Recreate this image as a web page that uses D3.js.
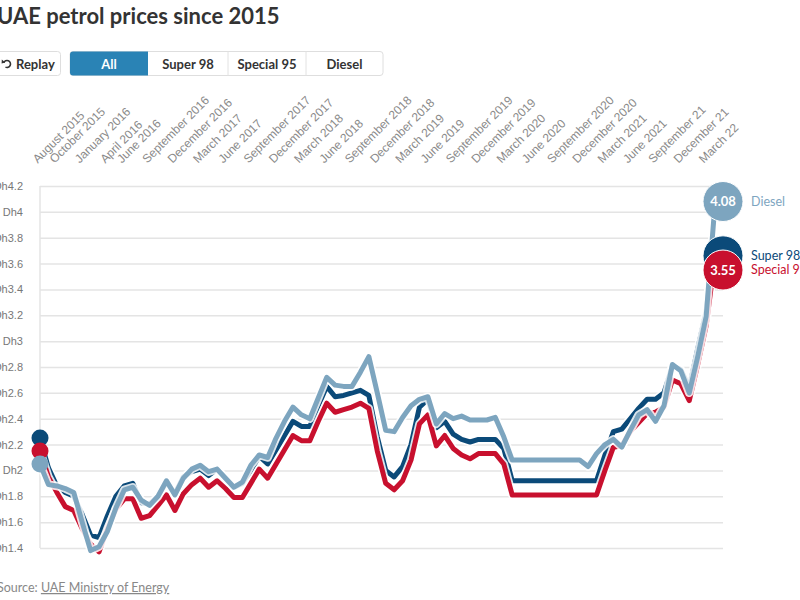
<!DOCTYPE html>
<html>
<head>
<meta charset="utf-8">
<script src="https://cdn.jsdelivr.net/npm/d3@7/dist/d3.min.js"></script>
<style>
  body { margin: 0; background: #fff; font-family: Lato, "Noto Sans", sans-serif; }
  .grid line { stroke: #e4e4e4; stroke-width: 1.5; }
  .grid text { fill: #777; font-size: 11px; }
  .months text { fill: #8a8a8a; font-size: 12px; }
</style>
</head>
<body>
<svg id="chart" width="800" height="600"></svg>
<script>
// monthly prices (Dh per litre), August 2015 to May 2022
var super98 = [
  2.25, 2.02, 1.88, 1.83, 1.80, 1.66, 1.50, 1.48, 1.65, 1.80,
  1.88, 1.90, 1.75, 1.74, 1.80, 1.91, 1.82, 1.95, 1.99, 2.01,
  1.96, 2.01, 1.94, 1.87, 1.90, 2.00, 2.11, 2.05, 2.16, 2.27,
  2.38, 2.34, 2.34, 2.50, 2.65, 2.57, 2.58, 2.60, 2.62, 2.58,
  2.26, 2.00, 1.95, 2.03, 2.20, 2.49, 2.55, 2.33, 2.38, 2.28,
  2.24, 2.22, 2.24, 2.24, 2.24, 2.17, 1.92, 1.92, 1.92, 1.92,
  1.92, 1.92, 1.92, 1.92, 1.92, 1.92, 1.92, 2.12, 2.30, 2.32,
  2.40, 2.48, 2.55, 2.55, 2.60, 2.81, 2.78, 2.64, 2.94, 3.23,
  3.74, 3.66
];
var special95 = [
  2.15, 1.95, 1.83, 1.72, 1.69, 1.55, 1.43, 1.37, 1.55, 1.70,
  1.78, 1.78, 1.63, 1.65, 1.73, 1.81, 1.69, 1.82, 1.89, 1.94,
  1.87, 1.92, 1.86, 1.79, 1.79, 1.90, 2.01, 1.94, 2.05, 2.16,
  2.27, 2.23, 2.23, 2.38, 2.52, 2.45, 2.47, 2.49, 2.52, 2.48,
  2.15, 1.90, 1.85, 1.92, 2.08, 2.36, 2.43, 2.19, 2.27, 2.17,
  2.12, 2.09, 2.13, 2.13, 2.13, 2.05, 1.81, 1.81, 1.81, 1.81,
  1.81, 1.81, 1.81, 1.81, 1.81, 1.81, 1.81, 2.00, 2.18, 2.19,
  2.30, 2.37, 2.44, 2.45, 2.49, 2.70, 2.67, 2.54, 2.82, 3.12,
  3.62, 3.55
];
var diesel = [
  2.05, 1.89, 1.88, 1.86, 1.83, 1.60, 1.38, 1.41, 1.53, 1.71,
  1.85, 1.87, 1.77, 1.73, 1.80, 1.92, 1.81, 1.94, 2.01, 2.04,
  1.99, 2.01, 1.94, 1.87, 1.91, 2.04, 2.12, 2.10, 2.25, 2.38,
  2.49, 2.43, 2.40, 2.56, 2.72, 2.66, 2.65, 2.65, 2.76, 2.88,
  2.60, 2.31, 2.30, 2.41, 2.50, 2.55, 2.57, 2.36, 2.44, 2.40,
  2.42, 2.39, 2.39, 2.39, 2.41, 2.26, 2.08, 2.08, 2.08, 2.08,
  2.08, 2.08, 2.08, 2.08, 2.08, 2.03, 2.13, 2.20, 2.24, 2.18,
  2.31, 2.43, 2.47, 2.38, 2.50, 2.82, 2.77, 2.60, 2.88, 3.19,
  4.02, 4.08
];

// x labels: month index (0 = August 2015) and text
var tickMonths = [0, 2, 5, 8, 10, 13, 16, 19, 22, 25, 28, 31, 34, 37, 40,
  43, 46, 49, 52, 55, 58, 61, 64, 67, 70, 73, 76, 79];
var tickLabels = ["August 2015", "October 2015", "January 2016", "April 2016",
  "June 2016", "September 2016", "December 2016", "March 2017", "June 2017",
  "September 2017", "December 2017", "March 2018", "June 2018",
  "September 2018", "December 2018", "March 2019", "June 2019",
  "September 2019", "December 2019", "March 2020", "June 2020",
  "September 2020", "December 2020", "March 2021", "June 2021",
  "September 21", "December 21", "March 22"];
var yTicks = [1.4, 1.6, 1.8, 2, 2.2, 2.4, 2.6, 2.8, 3, 3.2, 3.4, 3.6, 3.8, 4, 4.2];
var buttonLabels = ["All", "Super 98", "Special 95", "Diesel"];

var series = [
  { name: "Super 98", values: super98, colour: "#0b4a79", showValue: false },
  { name: "Special 95", values: special95, colour: "#c8102e", showValue: true },
  { name: "Diesel", values: diesel, colour: "#7da5bf", showValue: true }
];

var svg = d3.select("#chart");

var plot = { left: 40, right: 723, top: 186, bottom: 548 };

var x = d3.scaleLinear()
  .domain([0, super98.length - 1])
  .range([plot.left, plot.right]);
var y = d3.scaleLinear()
  .domain([1.4, 4.2])
  .range([plot.bottom, plot.top]);

// title
svg.append("text")
  .attr("x", -3)
  .attr("y", 24)
  .style("font-size", "22px")
  .style("font-weight", 700)
  .style("fill", "#333")
  .text("UAE petrol prices since 2015");

// replay button
var replay = svg.append("g");
replay.append("rect")
  .attr("x", -6).attr("y", 51.5)
  .attr("width", 66.5).attr("height", 24)
  .attr("rx", 3)
  .attr("fill", "#fff")
  .attr("stroke", "#dedede");
replay.append("path")
  .attr("d", d3.arc()({ innerRadius: 3.5, outerRadius: 3.5, startAngle: -1.2, endAngle: 3.6 }))
  .attr("transform", "translate(7,64)")
  .attr("fill", "none")
  .attr("stroke", "#333")
  .attr("stroke-width", 1.6);
replay.append("path")
  .attr("d", "M1.8,59.5 L5.2,62.6 L1.6,63.4 Z")
  .attr("fill", "#333");
replay.append("text")
  .attr("x", 16).attr("y", 68.5)
  .style("font-size", "13px")
  .style("font-weight", 700)
  .style("fill", "#333")
  .text("Replay");

// segmented buttons
var buttonEdges = [70, 148, 228, 306, 383];
var seg = svg.append("g");
seg.append("rect")
  .attr("x", buttonEdges[0]).attr("y", 51.5)
  .attr("width", buttonEdges[4] - buttonEdges[0]).attr("height", 24)
  .attr("rx", 3)
  .attr("fill", "#fff")
  .attr("stroke", "#dedede");
seg.append("path")
  .attr("d", "M" + (buttonEdges[0] + 3) + ",51.5 H" + buttonEdges[1] + " V75.5 H" + (buttonEdges[0] + 3) +
    " A3,3 0 0 1 " + buttonEdges[0] + ",72.5 V54.5 A3,3 0 0 1 " + (buttonEdges[0] + 3) + ",51.5 Z")
  .attr("fill", "#2a83b5");
buttonLabels.forEach(function (d, i) {
  if (i > 1) {
    seg.append("line")
      .attr("x1", buttonEdges[i]).attr("x2", buttonEdges[i])
      .attr("y1", 51.5).attr("y2", 75.5)
      .attr("stroke", "#e2e2e2");
  }
  seg.append("text")
    .attr("x", (buttonEdges[i] + buttonEdges[i + 1]) / 2)
    .attr("y", 68.5)
    .attr("text-anchor", "middle")
    .style("font-size", "13px")
    .style("font-weight", 700)
    .style("fill", i === 0 ? "#fff" : "#333")
    .text(d);
});

// y gridlines and labels
svg.append("g")
  .attr("class", "grid")
  .attr("transform", "translate(" + plot.left + ",0)")
  .call(d3.axisLeft(y)
    .tickValues(yTicks)
    .tickSize(-(plot.right - plot.left))
    .tickPadding(17)
    .tickFormat(function (d) { return "Dh" + d; }))
  .call(function (g) { g.select(".domain").remove(); })
  .call(function (g) { g.selectAll("text").style("font-family", "inherit"); });

svg.append("line")
  .attr("x1", plot.left).attr("x2", plot.left)
  .attr("y1", plot.top).attr("y2", plot.bottom)
  .attr("stroke", "#e4e4e4")
  .attr("stroke-width", 1.5);

// rotated month labels
svg.append("g")
  .attr("class", "months")
  .attr("transform", "translate(0,161)")
  .call(d3.axisTop(x)
    .tickValues(tickMonths)
    .tickSize(0)
    .tickFormat(function (d, i) { return tickLabels[i]; }))
  .call(function (g) { g.select(".domain").remove(); })
  .call(function (g) {
    g.selectAll("text")
      .attr("x", -4)
      .attr("y", 0)
      .attr("dy", 0)
      .attr("text-anchor", "start")
      .attr("transform", "rotate(-45)")
      .style("font-family", "inherit");
  });

// lines
var line = d3.line()
  .x(function (d, i) { return x(i); })
  .y(function (d) { return y(d); });

series.forEach(function (s) {
  svg.append("path")
    .datum(s.values)
    .attr("d", line)
    .attr("fill", "none")
    .attr("stroke", "#fff")
    .attr("stroke-opacity", 0.85)
    .attr("stroke-width", 8.5)
    .attr("stroke-linejoin", "round");
  svg.append("path")
    .datum(s.values)
    .attr("d", line)
    .attr("fill", "none")
    .attr("stroke", s.colour)
    .attr("stroke-width", 5)
    .attr("stroke-linejoin", "round");
});

// start dots
series.forEach(function (s) {
  svg.append("circle")
    .attr("cx", x(0))
    .attr("cy", y(s.values[0]))
    .attr("r", 8.5)
    .attr("fill", s.colour);
});

// end dots with values and names
var last = super98.length - 1;
series.forEach(function (s) {
  var v = s.values[last];
  svg.append("circle")
    .attr("cx", x(last))
    .attr("cy", y(v))
    .attr("r", 20)
    .attr("fill", s.colour)
    .attr("stroke", "#fff")
    .attr("stroke-width", 1);
  if (s.showValue) {
    svg.append("text")
      .attr("x", x(last))
      .attr("y", y(v))
      .attr("dy", "0.35em")
      .attr("text-anchor", "middle")
      .style("font-size", "13px")
      .style("font-weight", 700)
      .style("fill", "#fff")
      .text(v.toFixed(2));
  }
  svg.append("text")
    .attr("x", x(last) + 28)
    .attr("y", y(v))
    .attr("dy", "0.35em")
    .style("font-size", "12.5px")
    .style("fill", s.colour)
    .text(s.name);
});

// source
var source = svg.append("text")
  .attr("x", -3)
  .attr("y", 592)
  .style("font-size", "12.5px")
  .style("fill", "#888");
source.append("tspan").text("Source: ");
source.append("tspan")
  .style("text-decoration", "underline")
  .text("UAE Ministry of Energy");
</script>
</body>
</html>
